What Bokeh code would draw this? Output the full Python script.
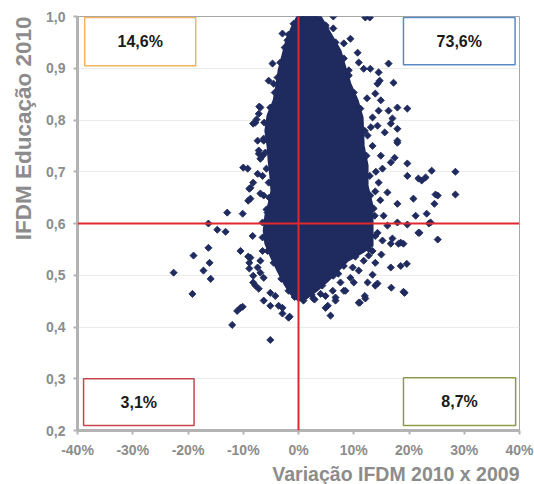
import math

from bokeh.embed import file_html
from bokeh.models import (BoxAnnotation, CustomJSTickFormatter, FixedTicker,
                          Label, Range1d, Span, Title)
from bokeh.plotting import figure
from bokeh.resources import INLINE

# Municípios: variação do IFDM Educação 2010 x 2009 (%) e IFDM Educação 2010
upper_right = [
    (1.4, 1.0), (3.4, 1.0), (6.3, 1.0), (12.1, 0.998), (12.9, 0.998),
    (4.9, 0.979), (6.3, 0.977), (9.4, 0.957), (8.2, 0.948), (10.7, 0.930),
    (10.9, 0.911), (11.8, 0.899), (13.0, 0.899), (14.5, 0.892), (16.3, 0.909),
    (9.1, 0.896), (14.3, 0.870), (17.2, 0.872), (13.9, 0.851), (14.9, 0.838),
    (14.5, 0.818), (16.3, 0.818), (17.9, 0.824), (19.7, 0.822), (16.7, 0.793),
    (13.4, 0.805), (17.0, 0.803), (17.9, 0.783), (17.9, 0.760), (17.4, 0.727),
    (19.7, 0.716), (14.7, 0.876), (12.4, 0.842), (13.1, 0.786), (15.6, 0.776),
]
middle_right = [
    (17.9, 0.756), (16.7, 0.718), (19.7, 0.692), (21.7, 0.687), (23.0, 0.689),
    (25.2, 0.654), (20.8, 0.648), (21.2, 0.615), (23.6, 0.600), (21.7, 0.582),
    (19.7, 0.598), (17.9, 0.602), (14.9, 0.731), (15.2, 0.706), (16.1, 0.660),
    (14.5, 0.679), (13.6, 0.629), (17.9, 0.638), (16.1, 0.596), (14.3, 0.582),
    (17.0, 0.571), (18.5, 0.563), (13.4, 0.750), (12.5, 0.770), (14.3, 0.789),
    (28.4, 0.700), (24.1, 0.702), (28.4, 0.656), (24.8, 0.656), (22.3, 0.683),
    (24.6, 0.638), (23.2, 0.619), (23.9, 0.602), (21.9, 0.582), (25.2, 0.569),
    (15.2, 0.567), (14.8, 0.645), (15.4, 0.615), (14.0, 0.700), (13.9, 0.662),
]
lower_right = [
    (16.7, 0.561), (18.1, 0.561), (19.0, 0.561), (16.7, 0.515), (18.5, 0.518),
    (19.6, 0.522), (16.8, 0.476), (19.0, 0.468), (14.3, 0.484), (12.5, 0.486),
    (13.4, 0.501), (10.0, 0.486), (10.9, 0.447), (12.1, 0.455), (5.8, 0.422),
    (4.9, 0.437), (6.7, 0.451), (8.2, 0.470), (9.4, 0.495), (12.7, 0.538),
    (13.4, 0.547), (13.9, 0.524), (11.8, 0.528), (7.6, 0.486), (4.0, 0.464),
    (2.7, 0.455), (6.2, 0.470), (10.9, 0.509), (13.9, 0.480), (19.2, 0.466),
    (5.3, 0.441), (11.1, 0.447), (12.0, 0.460), (6.7, 0.457), (8.5, 0.470),
    (2.9, 0.453), (4.9, 0.460), (9.8, 0.515), (7.2, 0.503), (15.0, 0.540),
]
upper_left = [
    (-2.9, 0.967), (-2.0, 0.954), (-4.7, 0.909), (-5.4, 0.876), (-4.5, 0.870),
    (-6.9, 0.824), (-7.8, 0.795), (-7.2, 0.812), (-6.3, 0.760), (-6.5, 0.731),
    (-7.1, 0.826), (-7.6, 0.801), (-8.2, 0.793), (-7.4, 0.760), (-7.2, 0.735),
    (-10.0, 0.708), (-9.2, 0.706), (-7.4, 0.696), (-8.9, 0.667), (-9.1, 0.644),
    (-10.1, 0.619), (-12.9, 0.621), (-16.3, 0.600), (-14.7, 0.588), (-6.9, 0.658),
    (-8.2, 0.679), (-6.5, 0.692), (-8.7, 0.669), (-8.7, 0.648), (-13.2, 0.584),
    (-8.3, 0.576), (-6.9, 0.725), (-7.2, 0.741), (-6.3, 0.654), (-5.6, 0.621),
]
lower_left = [
    (-16.3, 0.553), (-10.5, 0.547), (-8.7, 0.534), (-16.1, 0.524), (-17.2, 0.509),
    (-15.9, 0.493), (-8.2, 0.486), (-6.3, 0.451), (-10.5, 0.437), (-11.1, 0.431),
    (-10.1, 0.439), (-2.9, 0.437), (-5.1, 0.441), (-2.9, 0.426), (-1.8, 0.418),
    (-12.0, 0.404), (-5.1, 0.375), (-8.9, 0.513), (-8.2, 0.499), (-7.2, 0.474),
    (-6.5, 0.547), (-6.9, 0.528), (-22.6, 0.505), (-19.0, 0.538), (-19.2, 0.464),
    (-9.1, 0.536), (-8.9, 0.524), (-7.8, 0.480), (-3.6, 0.441), (-6.9, 0.505),
    (-6.3, 0.495), (-7.4, 0.515), (-5.1, 0.466), (-4.2, 0.460), (-1.6, 0.420),
]
# municipalities on the rim of the dense central mass
rim = [
    (0.4, 1.0), (1.1, 1.0), (2.4, 1.0), (2.9, 1.0),
    (4.9, 0.983), (6.7, 0.950), (8.2, 0.919), (9.1, 0.886), (10.0, 0.853),
    (11.2, 0.822), (12.0, 0.779), (12.3, 0.731), (12.9, 0.692), (13.0, 0.654),
    (13.8, 0.615), (13.9, 0.576), (12.7, 0.551), (10.3, 0.536), (8.2, 0.518),
    (6.3, 0.499), (4.3, 0.480), (2.4, 0.462), (0.9, 0.451),
    (-0.7, 0.458), (-1.8, 0.470), (-3.1, 0.493), (-4.5, 0.524), (-5.6, 0.547),
    (-6.5, 0.573), (-6.5, 0.602), (-5.8, 0.627), (-5.3, 0.650), (-5.4, 0.679),
    (-5.8, 0.706), (-6.0, 0.737), (-6.3, 0.764), (-6.2, 0.795), (-5.1, 0.824),
    (-4.3, 0.853), (-3.8, 0.882), (-3.3, 0.911), (-2.5, 0.940), (-1.8, 0.965),
    (-0.9, 0.986),
]

# outline of the region where the municipalities overlap completely
core_x = [-0.2, 4.0, 5.8, 7.6, 8.5, 9.4, 10.7, 11.6, 11.8, 12.5, 12.5, 13.4,
          13.4, 13.4, 11.6, 8.9, 7.2, 5.3, 3.3, 1.4, 0.0, -1.4, -2.5, -3.8,
          -5.1, -6.0, -6.3, -6.0, -5.4, -4.9, -5.1, -5.4, -5.6, -6.0, -5.6,
          -4.5, -4.0, -3.6, -2.9, -2.2, -1.3, -0.4]
core_y = [1.0, 1.0, 0.967, 0.934, 0.901, 0.870, 0.838, 0.805, 0.750, 0.712,
          0.673, 0.634, 0.596, 0.557, 0.544, 0.528, 0.509, 0.489, 0.470, 0.455,
          0.451, 0.464, 0.482, 0.509, 0.538, 0.561, 0.586, 0.615, 0.638, 0.663,
          0.692, 0.721, 0.750, 0.779, 0.809, 0.838, 0.867, 0.896, 0.925, 0.954,
          0.977, 0.996]

# share of municipalities in each quadrant
quadrant_shares = ["14,6%", "73,6%", "3,1%", "8,7%"]

x_ticks = [-40, -30, -20, -10, 0, 10, 20, 30, 40]
y_ticks = [0.2, 0.3, 0.4, 0.5, 0.6, 0.7, 0.8, 0.9, 1.0]

points = upper_right + middle_right + lower_right + upper_left + lower_left + rim
variacao = [pt[0] for pt in points]
ifdm = [pt[1] for pt in points]

NAVY = "#1f2a5f"
RED = "#e0282e"
GREY = "#8c8c8c"
FONT = "Liberation Sans"

p = figure(width=534, height=484, output_backend="svg", toolbar_location=None,
           x_range=Range1d(-40, 40), y_range=Range1d(0.2, 1.0),
           min_border_left=77, min_border_right=15, min_border_top=16,
           min_border_bottom=54)
p.background_fill_color = "white"
p.border_fill_color = "white"
p.outline_line_color = "#a6a6a6"
p.outline_line_width = 1

p.xgrid.visible = False
p.ygrid.ticker = FixedTicker(ticks=y_ticks)
p.ygrid.grid_line_color = "#ececec"

p.xaxis.ticker = FixedTicker(ticks=x_ticks)
p.yaxis.ticker = FixedTicker(ticks=y_ticks)
p.xaxis.formatter = CustomJSTickFormatter(code="return tick.toFixed(0) + '%';")
p.yaxis.formatter = CustomJSTickFormatter(
    code="return tick.toFixed(1).replace('.', ',');")
for ax in (p.xaxis, p.yaxis):
    ax.axis_line_color = "#b3b3b3"
    ax.axis_line_width = 3
    ax.major_tick_line_color = "#b3b3b3"
    ax.major_tick_line_width = 2
    ax.major_tick_out = 4
    ax.major_tick_in = 0
    ax.minor_tick_line_color = None
    ax.major_label_text_font = FONT
    ax.major_label_text_font_style = "bold"
    ax.major_label_text_font_size = "14px"
    ax.major_label_text_color = GREY
p.yaxis.major_label_standoff = 8
p.xaxis.major_label_standoff = 7

# axis titles pushed to the far end of their side (right / top)
p.add_layout(Title(text="Variação IFDM 2010 x 2009", align="right",
                   text_font=FONT, text_font_size="19.5px",
                   text_font_style="bold", text_color=GREY, standoff=0),
             "below")
p.add_layout(Title(text="IFDM Educação 2010", align="right", text_font=FONT,
                   text_font_size="22.5px", text_font_style="bold",
                   text_color=GREY, standoff=15), "left")

# dense mass of municipalities, then every individually visible one
p.patch(core_x, core_y, fill_color=NAVY, line_color=NAVY, line_width=2)
p.scatter(variacao, ifdm, marker="square", angle=math.pi / 4, size=5,
          fill_color=NAVY, line_color=NAVY, line_width=0.9)

p.add_layout(Span(location=0, dimension="height", line_color=RED, line_width=2))
p.add_layout(Span(location=0.6, dimension="width", line_color=RED, line_width=2))

boxes = [
    (-38.7, -18.6, 0.905, 0.998, "#f2b45e"),
    (19.0, 39.2, 0.907, 0.998, "#5a8ac6"),
    (-38.9, -18.9, 0.2095, 0.300, "#c8454d"),
    (19.0, 39.3, 0.2095, 0.302, "#8e9a48"),
]
for (left, right, bottom, top, color), share in zip(boxes, quadrant_shares):
    p.add_layout(BoxAnnotation(left=left, right=right, bottom=bottom, top=top,
                               fill_color="white", fill_alpha=1.0,
                               line_color=color, line_width=1.5, line_alpha=1.0))
    p.add_layout(Label(x=(left + right) / 2, y=(bottom + top) / 2, text=share,
                       text_align="center", text_baseline="middle",
                       text_font=FONT, text_font_style="bold",
                       text_font_size="16px", text_color="#1a1a1a"))

open("out.html", "w").write(file_html(p, INLINE))
